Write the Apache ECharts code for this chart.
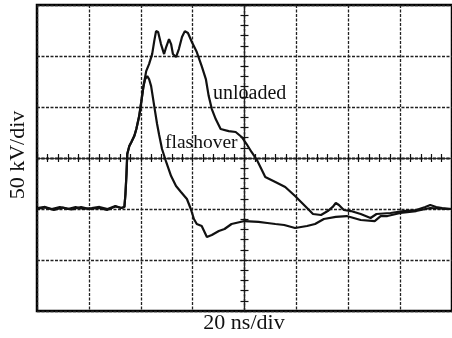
<!DOCTYPE html>
<html>
<head>
<meta charset="utf-8">
<script src="https://cdn.jsdelivr.net/npm/echarts@6/dist/echarts.min.js"></script>
<style>html,body{margin:0;padding:0;background:#fff;}#c{width:452px;height:338px;}</style>
</head>
<body>
<div id="c"></div>
<script>
// time in ns (20 ns/div), voltage in kV (50 kV/div)
var unloadedT = [0,3.1,5.7,8.8,11.9,14.9,18.0,21.1,24.1,27.2,30.2,32.5,33.7,34.1,34.5,34.8,35.6,36.4,37.5,38.3,39.4,40.2,41.0,42.1,43.2,44.4,45.2,45.9,46.7,47.8,49.0,49.8,50.9,51.7,52.4,53.6,54.7,55.9,57.0,58.2,59.7,61.6,63.5,65.1,66.2,67.4,68.9,70.8,73.9,76.6,78.9,80.8,82.7,84.6,86.5,88.0,91.9,95.7,99.5,101.8,104.5,106.4,109.5,112.1,114.0,115.2,116.4,118.3,121.0,124.8,128.6,130.9,136.3,141.3,146.2,149.7,151.6,153.9,156.2,160.0];
var unloadedV = [1.0,2.0,0,2.0,0,2.0,0,1.0,2.0,0,2.9,1.0,2.0,14.7,34.3,53.9,61.7,65.7,71.5,78.4,91.1,104.9,119.6,135.2,142.1,151.9,164.6,174.4,173.5,161.7,151.9,158.8,166.6,161.7,151.9,149.0,156.8,168.6,174.4,172.5,163.7,153.9,140.1,127.4,110.7,98.0,88.2,78.4,76.4,75.5,70.6,63.7,55.9,49.0,39.2,31.4,26.5,21.6,12.7,6.9,0,-4.9,-5.9,-2.0,2.0,5.9,3.9,-1.0,-2.0,-4.9,-8.8,-4.9,-3.9,-2.0,-1.0,2.0,3.9,2.0,1.0,0];
var flashT = [0,3.1,6.5,10.0,13.4,17.0,20.3,23.7,27.0,30.2,32.5,33.7,34.1,34.5,34.8,35.6,36.4,37.5,38.3,39.4,40.2,41.0,41.7,42.5,43.2,44.0,45.2,46.3,47.1,48.2,49.8,51.7,53.6,55.5,57.8,59.3,60.5,61.6,63.5,65.5,67.4,70.1,72.3,75.0,80.0,85.4,88.8,91.9,95.3,99.5,104.1,107.2,110.6,115.2,119.4,124.8,130.2,132.5,135.1,140.1,146.2,151.6,157.7,160.0];
var flashV = [0,1.5,-1.0,1.5,-0.5,2.0,0,1.0,-1.0,2.5,1.0,2.0,14.7,34.3,53.9,61.7,65.7,71.5,78.4,91.1,104.9,119.6,127.4,130.3,127.4,120.5,100.9,83.3,72.5,58.8,46.1,32.3,22.5,16.7,9.8,0,-9.8,-14.7,-16.7,-27.4,-25.5,-21.6,-19.6,-14.7,-11.8,-12.7,-13.7,-14.7,-15.7,-18.6,-16.7,-14.7,-9.8,-7.8,-6.9,-10.8,-11.8,-6.9,-6.9,-3.9,-2.0,1.0,0,0];
var xAxisTitle = '20 ns/div';
var yAxisTitle = '50 kV/div';
var labelUnloaded = 'unloaded';
var labelFlashover = 'flashover';

function pairs(t, v) { return t.map(function (x, i) { return [x, v[i]]; }); }

var gridLine = { color: '#222', width: 1.3, type: [3, 1.5] };
var font = '"Liberation Serif", "DejaVu Serif", serif';

function centerX(inside) {
  return {
    type: 'value', min: -4, max: 4, interval: 1, gridIndex: 0,
    axisLine: { show: true, onZero: true, onZeroAxisIndex: 1, lineStyle: gridLine },
    axisTick: { show: true, inside: inside, length: 4, lineStyle: { color: '#111', width: 1.2 } },
    minorTick: { show: true, splitNumber: 5, length: 4, lineStyle: { color: '#111', width: 1.2 } },
    axisLabel: { show: false }, splitLine: { show: false }
  };
}
function centerY(inside) {
  return {
    type: 'value', min: -3, max: 3, interval: 1, gridIndex: 0,
    axisLine: { show: true, onZero: true, onZeroAxisIndex: 1, lineStyle: gridLine },
    axisTick: { show: true, inside: inside, length: 4, lineStyle: { color: '#111', width: 1.2 } },
    minorTick: { show: true, splitNumber: 5, length: 4, lineStyle: { color: '#111', width: 1.2 } },
    axisLabel: { show: false }, splitLine: { show: false }
  };
}

var chart = echarts.init(document.getElementById('c'), null, { renderer: 'canvas' });
chart.setOption({
  animation: false,
  backgroundColor: '#fff',
  grid: { left: 37, top: 5, right: -3, bottom: 27, show: true, borderColor: '#000', borderWidth: 2.5, backgroundColor: 'transparent' },
  xAxis: [
    { type: 'value', min: 0, max: 160, interval: 20, position: 'bottom',
      axisLine: { show: false }, axisTick: { show: false }, axisLabel: { show: false },
      splitLine: { show: true, lineStyle: gridLine } },
    centerX(false), centerX(true)
  ],
  yAxis: [
    { type: 'value', min: -100, max: 200, interval: 50, position: 'left',
      axisLine: { show: false }, axisTick: { show: false }, axisLabel: { show: false },
      splitLine: { show: true, lineStyle: gridLine } },
    centerY(false), centerY(true)
  ],
  series: [
    { name: 'unloaded', type: 'line', data: pairs(unloadedT, unloadedV), showSymbol: false, xAxisIndex: 0, yAxisIndex: 0,
      lineStyle: { color: '#111', width: 2.2 }, z: 5 },
    { name: 'flashover', type: 'line', data: pairs(flashT, flashV), showSymbol: false, xAxisIndex: 0, yAxisIndex: 0,
      lineStyle: { color: '#111', width: 2.2 }, z: 5 }
  ],
  graphic: [
    { type: 'text', x: 18, y: 155, rotation: Math.PI / 2, style: { text: yAxisTitle, font: '22px ' + font, fill: '#111', textAlign: 'center', textVerticalAlign: 'middle' } },
    { type: 'text', x: 244, y: 323, style: { text: xAxisTitle, font: '22px ' + font, fill: '#111', textAlign: 'center', textVerticalAlign: 'middle' } },
    { type: 'text', x: 213, y: 94, style: { text: labelUnloaded, font: '20px ' + font, fill: '#111', textAlign: 'left', textVerticalAlign: 'middle' } },
    { type: 'text', x: 165, y: 143, style: { text: labelFlashover, font: '19.5px ' + font, fill: '#111', textAlign: 'left', textVerticalAlign: 'middle' } }
  ]
});
</script>
</body>
</html>
